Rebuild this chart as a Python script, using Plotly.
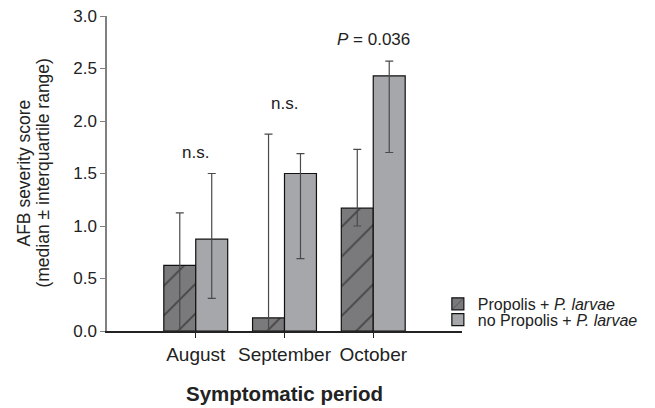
import plotly.graph_objects as go

months = ["August", "September", "October"]
propolis = [0.625, 0.125, 1.17]
propolis_hi = [1.125, 1.875, 1.73]
propolis_lo = [0.0, 0.0, 1.0]
nopropolis = [0.875, 1.5, 2.43]
nopropolis_hi = [1.5, 1.69, 2.57]
nopropolis_lo = [0.31, 0.69, 1.70]
annot_text = ["n.s.", "n.s.", "<i>P</i> = 0.036"]
annot_y = [1.70, 2.17, 2.78]
ytitle_lines = ["AFB severity score", "(median ± interquartile range)"]

FONT = "Arial, Liberation Sans, sans-serif"

def err(vals, hi, lo):
    return dict(type="data", symmetric=False,
                array=[h - v for h, v in zip(hi, vals)],
                arrayminus=[v - l for v, l in zip(vals, lo)],
                color="#4a4a4a", thickness=1.2, width=4)

fig = go.Figure()
fig.add_trace(go.Bar(
    x=months, y=propolis, name="Propolis + <i>P. larvae</i>",
    marker=dict(color="#7a7a7c", line=dict(color="#111111", width=1.2),
                pattern=dict(shape="/", fgcolor="#111111", bgcolor="#7a7a7c",
                             size=21, solidity=0.09)),
    error_y=err(propolis, propolis_hi, propolis_lo),
    legend="legend", showlegend=True,
))
fig.add_trace(go.Bar(
    x=months, y=nopropolis, name="no Propolis + <i>P. larvae</i>",
    marker=dict(color="#a6a7aa", line=dict(color="#111111", width=1.2)),
    error_y=err(nopropolis, nopropolis_hi, nopropolis_lo),
    legend="legend2", showlegend=True,
))

for m, t, y in zip(months, annot_text, annot_y):
    fig.add_annotation(x=m, y=y, text=t, showarrow=False, xref="x", yref="y",
                       font=dict(family=FONT, size=17, color="#222222"))

# two-line y-axis title
for line, px in zip(ytitle_lines, [-0.2366, -0.183]):
    fig.add_annotation(x=px, y=0.5, xref="paper", yref="paper", text=line,
                       textangle=-90, showarrow=False, xanchor="center",
                       yanchor="middle",
                       font=dict(family=FONT, size=17.5, color="#222222"))

leg_common = dict(xanchor="left", yanchor="middle", bgcolor="rgba(0,0,0,0)",
                  font=dict(size=16), borderwidth=0, visible=True)

fig.update_layout(
    width=655, height=408,
    margin=dict(l=99, r=201, t=8, b=85),
    paper_bgcolor="white", plot_bgcolor="white",
    barmode="group", bargap=0.28, bargroupgap=0,
    showlegend=True,
    font=dict(family=FONT, size=16, color="#222222"),
    legend=dict(x=0.932, y=0.086, **leg_common),
    legend2=dict(x=0.932, y=0.036, **leg_common),
    xaxis=dict(type="category", range=[-1, 3], showline=True, automargin=False,
               linecolor="#222222", linewidth=1.5, ticks="outside",
               ticklen=5, tickcolor="#222222", showgrid=False,
               tickfont=dict(size=19),
               title=dict(text="<b>Symptomatic period</b>", font=dict(size=20.5),
                          standoff=23)),
    yaxis=dict(range=[0, 3], dtick=0.5, tickformat=".1f", showline=True,
               automargin=False, ticklabeloverflow="allow",
               linecolor="#808080", linewidth=1.5, ticks="outside",
               ticklen=5, tickcolor="#808080", showgrid=False, zeroline=False,
               tickfont=dict(size=17)),
)

fig.write_html("out.html")
